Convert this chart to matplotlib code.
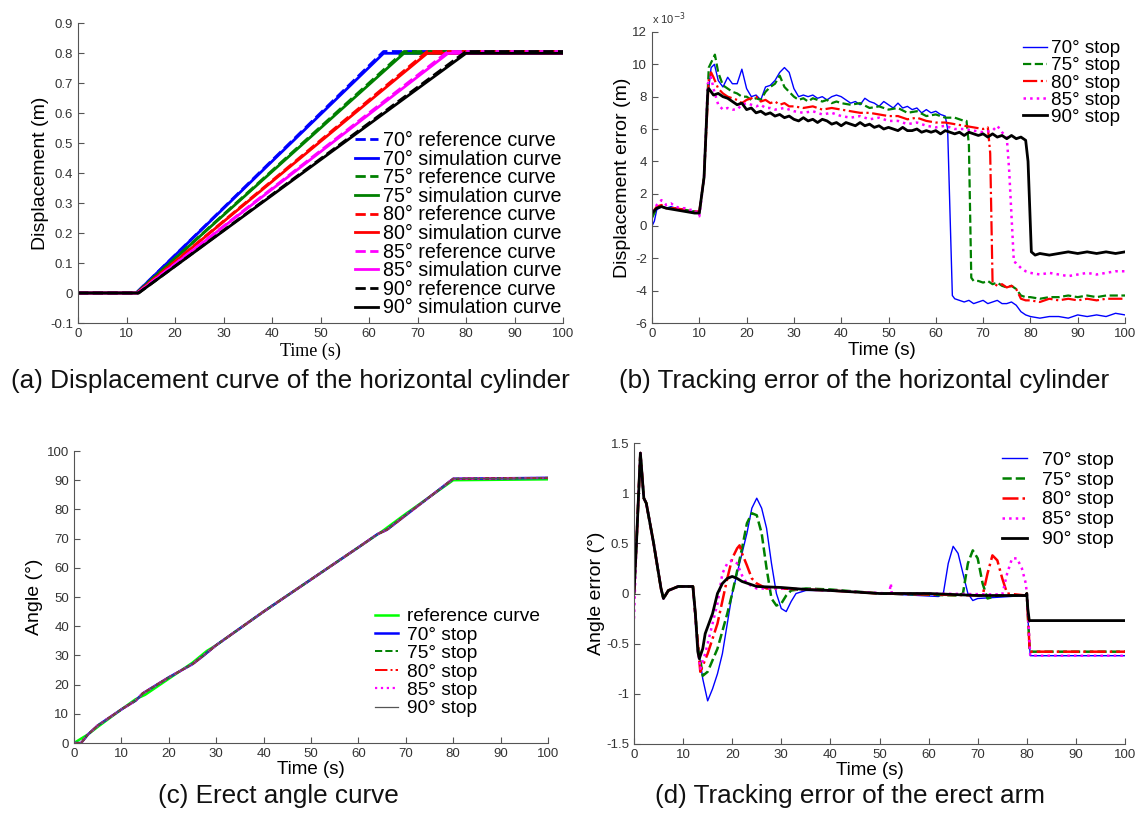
import matplotlib
matplotlib.use("Agg")
import matplotlib.pyplot as plt

plt.rcParams['font.family'] = ['Liberation Sans', 'DejaVu Sans']
plt.rcParams['axes.unicode_minus'] = False

# (a) displacement of horizontal cylinder: start of rise, end of rise (s)
angles = ["70", "75", "80", "85", "90"]
cols = ["#0000ff", "#008000", "#ff0000", "#ff00ff", "#000000"]
rise_start = [12.0, 12.1, 12.2, 12.3, 12.5]
rise_end = [63.0, 67.2, 72.0, 76.3, 80.0]
disp_top = 0.805
sim_lag = 0.006

# (b) displacement error, x 1e-3 m
b_t70 = [0, 0.5, 1, 2, 3, 4, 5, 6, 7, 8, 9, 10, 11, 11.8, 12.5, 13.2, 14, 15, 16, 17, 18, 19, 20, 21, 22, 23, 24, 25, 26, 27, 28, 29, 30, 31, 32, 33, 34, 35, 36, 37, 38, 39, 40, 41, 42, 43, 44, 45, 46, 47, 48, 49, 50, 51, 52, 53, 54, 55, 56, 57, 58, 59, 60, 61, 62, 62.5, 63.5, 64, 65, 66, 67, 68, 69, 70, 71, 72, 73, 74, 75, 76, 77, 78, 79, 80, 82, 84, 86, 88, 90, 92, 94, 96, 98, 100]
b_e70 = [0, 0.3, 1.0, 1.2, 1.1, 1.2, 1.1, 1.0, 1.0, 0.9, 0.9, 0.9, 3, 8, 9.8, 10, 9, 8.6, 9.2, 8.8, 8.8, 9.7, 8.5, 8.0, 8.1, 7.8, 8.6, 8.7, 9.0, 9.5, 9.8, 9.5, 8.5, 8.0, 8.1, 8.0, 8.1, 7.9, 8.0, 7.8, 8.0, 8.1, 8.0, 7.8, 7.6, 7.7, 7.5, 7.9, 7.7, 7.6, 7.4, 7.7, 7.5, 7.3, 7.6, 7.3, 7.4, 7.2, 7.3, 7.0, 7.2, 7.0, 7.1, 6.9, 6.8, 6.0, -4.3, -4.5, -4.6, -4.7, -4.6, -4.8, -4.7, -4.6, -4.8, -4.7, -4.6, -4.8, -4.8, -4.7, -4.9, -5.3, -5.5, -5.6, -5.7, -5.6, -5.6, -5.7, -5.5, -5.6, -5.5, -5.6, -5.4, -5.5]
b_t75 = [0, 1, 2, 3, 5, 7, 9, 10, 11, 12, 13.3, 14, 15, 16, 17, 18, 19, 20, 21, 22, 23, 24, 25, 26, 27, 28, 29, 30, 31, 32, 33, 34, 35, 36, 37, 38, 39, 40, 42, 44, 46, 48, 50, 52, 54, 56, 58, 60, 62, 64, 66, 66.5, 67, 67.5, 68, 69, 70, 71, 72, 73, 74, 75, 76, 77, 78, 79, 80, 82, 84, 86, 88, 90, 92, 94, 96, 98, 100]
b_e75 = [0.5, 1.1, 1.2, 1.1, 1.1, 1.0, 0.9, 0.8, 3, 9.8, 10.6, 9.5, 8.7, 8.5, 8.3, 8.2, 8.0, 8.0, 7.8, 7.9, 7.8, 8.3, 8.6, 8.8, 9.3, 8.6, 8.3, 8.0, 7.8, 7.9, 7.7, 7.9, 7.8, 7.7, 7.8, 7.6, 7.7, 7.6, 7.5, 7.6, 7.3, 7.4, 7.2, 7.3, 7.0, 7.1, 6.8, 6.9, 6.7, 6.7, 6.5, 6.5, 5.0, -3.2, -3.4, -3.4, -3.5, -3.4, -3.6, -3.5, -3.7, -3.8, -3.7, -3.9, -4.3, -4.4, -4.4, -4.5, -4.4, -4.4, -4.3, -4.4, -4.3, -4.4, -4.3, -4.3, -4.3]
b_t80 = [0, 1, 2, 3, 5, 7, 9, 10, 11, 12, 12.5, 13, 14, 15, 16, 17, 18, 19, 20, 21, 22, 23, 24, 25, 26, 27, 28, 29, 30, 32, 34, 36, 38, 40, 42, 44, 46, 48, 50, 52, 54, 56, 58, 60, 62, 64, 66, 68, 70, 71, 71.5, 72, 73, 74, 75, 76, 77, 78, 79, 80, 82, 84, 86, 88, 90, 92, 94, 96, 98, 100]
b_e80 = [0.8, 1.2, 1.3, 1.1, 1.1, 1.0, 0.9, 0.9, 3, 9.0, 9.5, 9.2, 8.5, 8.2, 8.0, 7.9, 7.8, 7.6, 7.8, 7.9, 8.0, 7.7, 7.8, 7.6, 7.7, 7.5, 7.6, 7.4, 7.4, 7.3, 7.4, 7.2, 7.3, 7.2, 7.1, 7.0, 7.0, 6.9, 6.8, 6.8, 6.6, 6.7, 6.5, 6.4, 6.4, 6.3, 6.2, 6.1, 6.0, 6.1, 4.5, -3.5, -3.7, -3.6, -3.8, -3.7, -3.9, -4.5, -4.6, -4.6, -4.7, -4.5, -4.6, -4.5, -4.6, -4.5, -4.6, -4.5, -4.5, -4.5]
b_t85 = [0, 1, 2, 3, 4, 5, 6, 7, 8, 9, 10, 11, 11.8, 12.5, 13, 14, 15, 16, 17, 18, 19, 20, 21, 22, 23, 24, 25, 26, 28, 30, 32, 34, 36, 38, 40, 42, 44, 46, 48, 50, 52, 54, 56, 58, 60, 62, 64, 66, 68, 70, 72, 73, 74, 75, 75.5, 76.5, 77, 78, 79, 80, 82, 84, 86, 88, 90, 92, 94, 96, 98, 100]
b_e85 = [0.9, 1.3, 1.6, 1.3, 1.4, 1.2, 1.1, 1.1, 1.0, 1.0, 0.6, 3, 8.8, 9.2, 8.5, 7.5, 7.2, 7.3, 7.2, 7.2, 7.5, 7.6, 7.5, 7.4, 7.5, 7.3, 7.3, 7.2, 7.3, 7.1, 7.0, 7.1, 6.9, 7.0, 6.8, 6.7, 6.8, 6.6, 6.7, 6.5, 6.5, 6.3, 6.4, 6.2, 6.1, 6.2, 6.0, 6.0, 5.9, 5.8, 5.9, 6.2, 5.8, 5.5, 3.5, -2.2, -2.3, -2.6, -2.8, -2.9, -3.0, -2.9, -3.0, -3.1, -3.0, -2.9, -3.0, -2.9, -2.8, -2.8]
b_t90 = [0, 1, 2, 3, 5, 7, 9, 10, 11, 11.8, 12, 13, 14, 15, 16, 17, 18, 19, 20, 21, 22, 23, 24, 25, 26, 27, 28, 29, 30, 31, 32, 33, 34, 35, 36, 37, 38, 39, 40, 41, 42, 43, 44, 45, 46, 47, 48, 49, 50, 51, 52, 53, 54, 55, 56, 57, 58, 59, 60, 61, 62, 63, 64, 65, 66, 67, 68, 69, 70, 71, 72, 73, 74, 75, 76, 77, 78, 79, 79.5, 80.2, 81, 82, 84, 86, 88, 90, 92, 94, 96, 98, 100]
b_e90 = [0.8, 1.1, 1.2, 1.1, 1.0, 0.9, 0.8, 0.8, 3, 8.4, 8.5, 8.1, 8.2, 8.0, 7.9, 7.7, 7.5, 7.6, 7.2, 7.3, 7.0, 7.1, 6.9, 7.0, 6.8, 6.9, 6.7, 6.8, 6.6, 6.5, 6.7, 6.5, 6.6, 6.4, 6.6, 6.5, 6.3, 6.4, 6.2, 6.4, 6.3, 6.2, 6.4, 6.2, 6.3, 6.1, 6.2, 6.0, 6.1, 6.0, 5.9, 6.1, 5.9, 5.9, 6.0, 5.8, 5.9, 5.8, 5.9, 5.7, 5.9, 5.8, 5.7, 5.8, 5.6, 5.8, 5.7, 5.6, 5.7, 5.5, 5.7, 5.5, 5.6, 5.4, 5.6, 5.4, 5.5, 5.3, 4.0, -1.6, -1.8, -1.7, -1.8, -1.7, -1.6, -1.7, -1.6, -1.7, -1.6, -1.7, -1.6]

# (c) erect angle (deg)
c_tref = [0, 1, 3, 5, 10, 13, 15, 20, 25, 28, 30, 40, 50, 60, 65, 70, 80, 100]
c_aref = [0, 1, 3, 5.5, 11.5, 15, 16.5, 22, 27.5, 31.5, 33.5, 45, 56, 67, 72.5, 78.5, 90, 90.3]
c_tsim = [0, 1.5, 3, 5, 10, 13, 14.5, 17, 20, 25, 27, 30, 40, 50, 60, 64, 66, 70, 80, 100]
c_asim = [0, 0, 3, 6, 11.5, 14.5, 17, 19.5, 22.5, 27, 29.5, 33.5, 45, 56, 67, 71.5, 73, 78, 90.5, 90.8]

# (d) angle error (deg)
d_head_t = [0, 0.5, 1.3, 2, 2.5, 4, 5.5, 6, 7, 9, 12]
d_head_e = [0, 0.5, 1.4, 0.95, 0.9, 0.5, 0.05, -0.05, 0.03, 0.07, 0.07]
d_t70 = [12.5, 13, 14, 15, 16, 17, 18, 19, 20, 21, 22, 23, 24, 25, 26, 27, 28, 29, 30, 31, 32, 33, 35, 40, 50, 62, 63, 64, 65, 66, 67, 68, 69, 70, 79.8, 80, 80.3, 80.7, 100]
d_e70 = [-0.2, -0.5, -0.85, -1.07, -0.95, -0.8, -0.6, -0.3, 0.0, 0.2, 0.4, 0.6, 0.85, 0.95, 0.85, 0.65, 0.3, 0.0, -0.15, -0.18, -0.08, 0.0, 0.03, 0.03, 0.0, -0.03, 0.0, 0.3, 0.47, 0.4, 0.2, 0.0, -0.07, -0.05, -0.02, 0.0, -0.3, -0.62, -0.62]
d_t75 = [13, 14, 15, 17, 19, 20, 22, 23, 24, 25, 26, 27, 28, 29, 30, 31, 32, 35, 40, 50, 66, 67, 68, 69, 70, 71, 72, 74, 79.8, 80, 80.6, 100]
d_e75 = [-0.5, -0.82, -0.78, -0.55, -0.2, 0.0, 0.45, 0.7, 0.8, 0.78, 0.6, 0.25, -0.05, -0.12, -0.1, -0.02, 0.03, 0.05, 0.04, 0.0, -0.02, 0.0, 0.3, 0.43, 0.35, 0.1, -0.05, -0.02, -0.02, 0.0, -0.58, -0.58]
d_t80 = [13, 13.5, 15, 17, 19, 20, 21, 21.5, 22, 23, 24, 25, 27, 30, 40, 50, 71, 72, 73, 74, 75, 76, 79.8, 80, 80.6, 100]
d_e80 = [-0.5, -0.78, -0.6, -0.3, 0.15, 0.35, 0.45, 0.48, 0.4, 0.28, 0.15, 0.1, 0.05, 0.05, 0.03, 0.0, -0.02, 0.2, 0.38, 0.33, 0.15, 0.0, -0.02, 0.0, -0.58, -0.58]
d_t85 = [13, 13.5, 14.5, 16, 17, 18, 19, 20, 21, 22, 23, 25, 30, 40, 52, 52.3, 52.5, 60, 75, 76, 77, 78, 79, 79.8, 80, 80.7, 100]
d_e85 = [-0.55, -0.75, -0.6, -0.3, -0.1, 0.2, 0.3, 0.33, 0.3, 0.18, 0.1, 0.05, 0.05, 0.03, 0.0, 0.1, 0.0, 0.0, -0.01, 0.2, 0.35, 0.35, 0.25, 0.1, 0.0, -0.62, -0.62]
d_t90 = [12.5, 13, 13.3, 14, 14.5, 16, 17, 18, 19, 20, 21, 22, 25, 30, 35, 40, 50, 60, 70, 79.8, 80, 80.2, 80.5, 100]
d_e90 = [-0.2, -0.58, -0.65, -0.55, -0.4, -0.2, 0.0, 0.1, 0.15, 0.17, 0.15, 0.12, 0.07, 0.06, 0.04, 0.03, 0.0, 0.0, -0.02, -0.02, 0.0, -0.15, -0.27, -0.27]

W, H = 1148, 818
fig = plt.figure(figsize=(W / 100, H / 100), dpi=100)


def box(x0, y0, x1, y1):
    return [x0 / W, 1 - y1 / H, (x1 - x0) / W, (y1 - y0) / H]


def style(ax):
    for s in ["top", "right"]:
        ax.spines[s].set_visible(False)
    for s in ["left", "bottom"]:
        ax.spines[s].set_color("#555555")
    ax.tick_params(direction="in", labelsize=9.5, colors="#555555",
                   labelcolor="#333333", length=4)


def fpos(x, y):
    return (x / W, 1 - y / H)


leg_kw = dict(bbox_transform=fig.transFigure, loc="upper left", frameon=False,
              borderpad=0, borderaxespad=0)

# ---- (a)
ax = fig.add_axes(box(78, 23, 563, 323))
style(ax)
for i in range(5):
    t = [0, rise_start[i], rise_end[i], 100]
    ax.plot(t, [0, 0, disp_top, disp_top], "--", color=cols[i], lw=2,
            label=angles[i] + "° reference curve")
    ax.plot(t, [0, 0, disp_top - sim_lag, disp_top - sim_lag], "-",
            color=cols[i], lw=2, label=angles[i] + "° simulation curve")
ax.set_xlim(0, 100)
ax.set_ylim(-0.1, 0.9)
ax.set_xticks(range(0, 101, 10))
ax.set_yticks([-0.1, 0, 0.1, 0.2, 0.3, 0.4, 0.5, 0.6, 0.7, 0.8, 0.9])
ax.set_yticklabels(["-0.1", "0", "0.1", "0.2", "0.3", "0.4", "0.5", "0.6", "0.7", "0.8", "0.9"])
ax.set_ylabel("Displacement (m)", fontsize=14, labelpad=1)
ax.set_xlabel("Time (s)", fontsize=13, family="Liberation Serif", labelpad=2)
ax.xaxis.label.set_x(0.48)
ax.legend(bbox_to_anchor=fpos(355, 131), fontsize=14.2, handlelength=1.17,
          handletextpad=0.25, labelspacing=-0.02, **leg_kw)

# ---- (b)
ax = fig.add_axes(box(652, 32, 1125, 323))
style(ax)
ax.plot(b_t70, b_e70, "-", color="#0000ff", lw=1.0, label="70° stop")
ax.plot(b_t75, b_e75, "--", color="#008000", lw=1.6, label="75° stop")
ax.plot(b_t80, b_e80, "-.", color="#ff0000", lw=1.6, label="80° stop")
ax.plot(b_t85, b_e85, ":", color="#ff00ff", lw=1.8, label="85° stop")
ax.plot(b_t90, b_e90, "-", color="#000000", lw=2.0, label="90° stop")
ax.set_xlim(0, 100)
ax.set_ylim(-6, 12)
ax.set_xticks(range(0, 101, 10))
ax.set_yticks(range(-6, 13, 2))
ax.set_ylabel("Displacement error (m)", fontsize=14, labelpad=1)
ax.set_xlabel("Time (s)", fontsize=13.5, labelpad=1.5)
ax.xaxis.label.set_x(0.485)
fig.text(*fpos(652, 27), "x 10$^{-3}$", fontsize=8, color="#333333", va="bottom")
ax.legend(bbox_to_anchor=fpos(1023, 40), fontsize=13.6, handlelength=1.27,
          handletextpad=0.2, labelspacing=0.0, **leg_kw)

# ---- (c)
ax = fig.add_axes(box(74, 451, 548, 743))
style(ax)
ax.plot(c_tref, c_aref, "-", color="#00ff00", lw=1.8, label="reference curve")
ax.plot(c_tsim, c_asim, "-", color="#0000ff", lw=1.8, label="70° stop")
ax.plot(c_tsim, c_asim, "--", color="#008000", lw=1.4, label="75° stop")
ax.plot(c_tsim, c_asim, "-.", color="#ff0000", lw=1.4, label="80° stop")
ax.plot(c_tsim, c_asim, ":", color="#ff00ff", lw=1.6, label="85° stop")
ax.plot(c_tsim, c_asim, "-", color="#555555", lw=0.9, label="90° stop")
ax.set_xlim(0, 100)
ax.set_ylim(0, 100)
ax.set_xticks(range(0, 101, 10))
ax.set_yticks(range(0, 101, 10))
ax.set_ylabel("Angle (°)", fontsize=14, labelpad=3)
ax.set_xlabel("Time (s)", fontsize=13.5, labelpad=0.5)
ax.legend(bbox_to_anchor=fpos(375, 608), fontsize=13.8, handlelength=1.2,
          handletextpad=0.47, labelspacing=0.05, **leg_kw)

# ---- (d)
ax = fig.add_axes(box(634, 443, 1125, 744))
style(ax)
d_sets = [(d_t70, d_e70, "-", "#0000ff", 1.0, "70° stop"),
          (d_t75, d_e75, "--", "#008000", 1.8, "75° stop"),
          (d_t80, d_e80, "-.", "#ff0000", 1.8, "80° stop"),
          (d_t85, d_e85, ":", "#ff00ff", 1.8, "85° stop"),
          (d_t90, d_e90, "-", "#000000", 2.0, "90° stop")]
for t, e, ls, c, lw, lab in d_sets:
    head_e = list(d_head_e)
    if lab.startswith("85"):
        head_e[0] = -0.25
    ax.plot(d_head_t + t, head_e + e, ls, color=c, lw=lw, label=lab)
ax.set_xlim(0, 100)
ax.set_ylim(-1.5, 1.5)
ax.set_xticks(range(0, 101, 10))
ax.set_yticks([-1.5, -1, -0.5, 0, 0.5, 1, 1.5])
ax.set_yticklabels(["-1.5", "-1", "-0.5", "0", "0.5", "1", "1.5"])
ax.set_ylabel("Angle error (°)", fontsize=14, labelpad=1)
ax.set_xlabel("Time (s)", fontsize=13.5, labelpad=0.5)
ax.xaxis.label.set_x(0.48)
ax.legend(bbox_to_anchor=fpos(1002, 451), fontsize=14, handlelength=1.3,
          handletextpad=0.77, labelspacing=0.12, **leg_kw)

# captions
cap = dict(fontsize=18.8, ha="center", va="center", color="#111111")
fig.text(*fpos(290, 381), "(a) Displacement curve of the horizontal cylinder", **cap)
fig.text(*fpos(864, 381), "(b) Tracking error of the horizontal cylinder", **cap)
fig.text(*fpos(278, 796), "(c) Erect angle curve", **cap)
fig.text(*fpos(850, 796), "(d) Tracking error of the erect arm", **cap)

fig.savefig("out.png", dpi=100)
